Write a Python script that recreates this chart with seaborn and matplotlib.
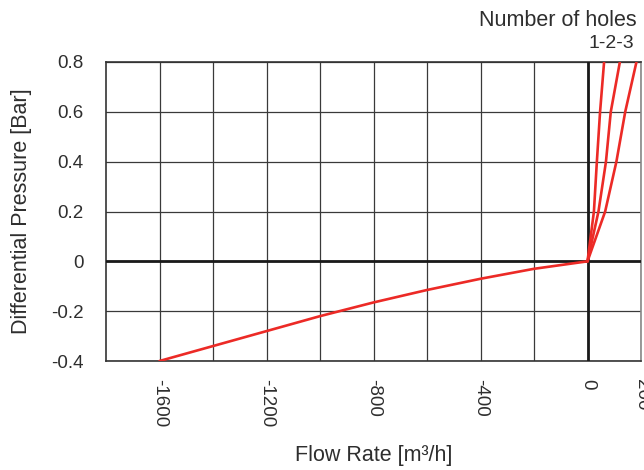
import numpy as np
import pandas as pd
import matplotlib
matplotlib.use("Agg")
import matplotlib.pyplot as plt
import seaborn as sns

# Reverse flow branch (negative flow rate)
reverse_flow = [-1600, -1400, -1200, -1000, -800, -600, -400, -200, 0]
reverse_dp = [-0.40, -0.34, -0.28, -0.22, -0.165, -0.115, -0.07, -0.03, 0.0]

# Forward flow for 1, 2 and 3 holes
forward_dp = [0.0, 0.2, 0.4, 0.6, 0.8]
flow_1_hole = [0, 24, 35, 47, 62]
flow_2_holes = [0, 41, 69, 87, 121]
flow_3_holes = [0, 66, 108, 141, 183]

x_tick_values = [-1600, -1200, -800, -400, 0, 200]
x_tick_labels = ["-1600", "-1200", "-800", "-400", "0", "200"]
y_tick_values = [-0.4, -0.2, 0.0, 0.2, 0.4, 0.6, 0.8]
y_tick_labels = ["-0.4", "-0.2", "0", "0.2", "0.4", "0.6", "0.8"]

sns.set_style("white")
plt.rcParams["font.family"] = ["Liberation Sans", "DejaVu Sans"]

fig = plt.figure(figsize=(6.44, 4.70), dpi=100)
ax = fig.add_axes([106 / 644, 1 - 361 / 470, 535 / 644, 299 / 470])

red = "#ec2a26"
text_color = "#2e2e2e"

reverse = pd.DataFrame({"flow": reverse_flow, "dp": reverse_dp})
sns.lineplot(data=reverse, x="flow", y="dp", ax=ax, color=red, lw=1.9,
             estimator=None, sort=False, zorder=5)

for flows in (flow_1_hole, flow_2_holes, flow_3_holes):
    df = pd.DataFrame({"flow": flows, "dp": forward_dp})
    sns.lineplot(data=df, x="flow", y="dp", ax=ax, color=red, lw=1.9,
                 estimator=None, sort=False, zorder=5)

ax.set_xlim(-1800, 200)
ax.set_ylim(-0.4, 0.8)

ax.set_xticks(x_tick_values)
ax.set_xticklabels(x_tick_labels, rotation=270, fontsize=13.5, color=text_color)
ax.set_xticks(np.arange(-1600, 200, 200), minor=True)
ax.set_yticks(y_tick_values)
ax.set_yticklabels(y_tick_labels, fontsize=13.5, color=text_color)

ax.tick_params(axis="both", which="both", length=0)
ax.tick_params(axis="x", pad=13)
ax.tick_params(axis="y", pad=16)

ax.grid(True, which="both", color="#3a3a3a", lw=0.9)
ax.set_axisbelow(True)

ax.axhline(0, color="#1a1a1a", lw=2.0, zorder=4)
ax.axvline(0, color="#1a1a1a", lw=2.0, zorder=4)

for side, spine in ax.spines.items():
    spine.set_visible(True)
    spine.set_color("#333333")
    spine.set_linewidth(1.2)
ax.spines["right"].set_color("#888888")

ax.set_xlabel("Flow Rate [m³/h]", fontsize=15.5, color=text_color, labelpad=13)
ax.set_ylabel("Differential Pressure [Bar]", fontsize=15.5, color=text_color, labelpad=14)

fig.text(637 / 644, 1 - 20 / 470, "Number of holes", ha="right", va="center",
         fontsize=15.5, color=text_color)
fig.text(634 / 644, 1 - 44 / 470, "1-2-3", ha="right", va="center",
         fontsize=14, color=text_color)

fig.savefig("out.png", dpi=100)
